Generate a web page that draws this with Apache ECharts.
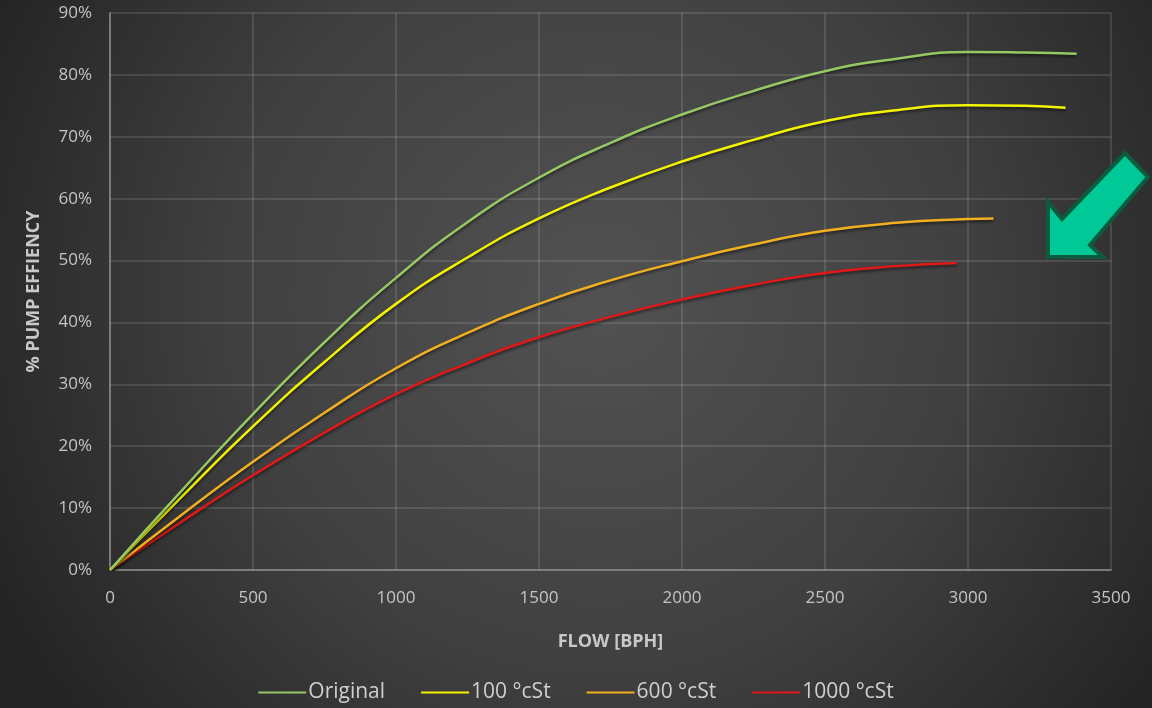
<!DOCTYPE html>
<html>
<head>
<meta charset="utf-8">
<script src="https://cdn.jsdelivr.net/npm/echarts@6/dist/echarts.min.js"></script>
<style>
  html, body { margin: 0; padding: 0; background: #2a2a2a; }
  #chart { width: 1152px; height: 708px; }
</style>
</head>
<body>
<div id="chart"></div>
<script>
// Pump efficiency (%) against flow (BPH) for increasing oil viscosity
const seriesNames = ['Original', '100 °cSt', '600 °cSt', '1000 °cSt'];
const seriesColors = ['#96c864', '#f4f400', '#f2b020', '#e01818'];

const originalFlow = [0, 250, 500, 750, 1000, 1250, 1500, 1750, 2000, 2250, 2500, 2750, 3000, 3200, 3380];
const originalEff  = [0, 12.8, 25.2, 36.8, 47.2, 56.2, 63.4, 69.0, 73.6, 77.4, 80.6, 82.6, 83.7, 83.6, 83.4];

const cst100Flow = [0, 250, 500, 750, 1000, 1250, 1500, 1750, 2000, 2250, 2500, 2750, 3000, 3200, 3341];
const cst100Eff  = [0, 11.8, 23.2, 33.6, 43.0, 50.5, 56.8, 61.8, 66.0, 69.5, 72.5, 74.3, 75.1, 75.0, 74.7];

const cst600Flow = [0, 250, 500, 750, 1000, 1250, 1500, 1750, 2000, 2250, 2500, 2750, 3000, 3089];
const cst600Eff  = [0, 8.9, 17.5, 25.4, 32.6, 38.3, 43.0, 46.8, 49.9, 52.6, 54.8, 56.1, 56.7, 56.8];

const cst1000Flow = [0, 250, 500, 750, 1000, 1250, 1500, 1750, 2000, 2250, 2500, 2750, 2961];
const cst1000Eff  = [0, 7.8, 15.3, 22.2, 28.4, 33.4, 37.6, 40.9, 43.7, 46.1, 48.0, 49.1, 49.6];

const flows = [originalFlow, cst100Flow, cst600Flow, cst1000Flow];
const effs = [originalEff, cst100Eff, cst600Eff, cst1000Eff];

const labelFont = '"Open Sans", "Noto Sans", sans-serif';

const chart = echarts.init(document.getElementById('chart'));

const series = seriesNames.map((name, i) => ({
  name: name,
  type: 'line',
  smooth: 0.5,
  showSymbol: false,
  symbol: 'none',
  data: flows[i].map((x, k) => [x, effs[i][k]]),
  lineStyle: {
    color: seriesColors[i],
    width: 2.5,
    shadowColor: 'rgba(0,0,0,0.55)',
    shadowBlur: 3,
    shadowOffsetY: 2
  },
  itemStyle: { color: seriesColors[i] },
  z: 10 - i
}));

chart.setOption({
  backgroundColor: {
    type: 'radial', x: 0.52, y: 0.42, r: 0.95,
    colorStops: [
      { offset: 0, color: '#525252' },
      { offset: 0.55, color: '#404040' },
      { offset: 1, color: '#242424' }
    ]
  },
  animation: false,
  grid: { left: 110, right: 41, top: 13, bottom: 138, containLabel: false },
  xAxis: {
    type: 'value',
    min: 0, max: 3500, interval: 500,
    name: 'FLOW [BPH]',
    nameLocation: 'middle',
    nameGap: 63,
    nameTextStyle: { color: '#c8c8c8', fontSize: 18, fontWeight: 'bold', fontFamily: labelFont },
    axisLine: { show: true, lineStyle: { color: '#8c8c8c', width: 1.5 } },
    axisTick: { show: false },
    axisLabel: { color: '#c4c4c4', fontSize: 17, fontFamily: labelFont, margin: 20, formatter: v => String(v) },
    splitLine: { show: true, lineStyle: { color: 'rgba(255,255,255,0.16)', width: 1.5 } }
  },
  yAxis: {
    type: 'value',
    min: 0, max: 90, interval: 10,
    name: '% PUMP EFFIENCY',
    nameLocation: 'middle',
    nameGap: 67,
    nameTextStyle: { color: '#c8c8c8', fontSize: 18, fontWeight: 'bold', fontFamily: labelFont },
    axisLine: { show: true, lineStyle: { color: '#8c8c8c', width: 1.5 } },
    axisTick: { show: false },
    axisLabel: { color: '#c4c4c4', fontSize: 17, fontFamily: labelFont, margin: 18, formatter: '{value}%' },
    splitLine: { show: true, lineStyle: { color: 'rgba(255,255,255,0.16)', width: 1.5 } }
  },
  legend: {
    bottom: 0,
    left: 'center',
    icon: 'rect',
    itemWidth: 48,
    itemHeight: 2,
    itemGap: 36,
    textStyle: { color: '#cfcfcf', fontSize: 21, fontFamily: labelFont, padding: [0, 0, 0, -3] },
    data: seriesNames
  },
  graphic: [{
    type: 'polygon',
    z: 100,
    shape: {
      points: [
        [1125, 153], [1148, 177], [1090, 245], [1103, 257],
        [1048, 257], [1048, 202], [1062, 219]
      ]
    },
    style: { fill: '#00c896', stroke: '#0b5c3e', lineWidth: 4, lineJoin: 'miter' }
  }],
  series: series
});
</script>
</body>
</html>
